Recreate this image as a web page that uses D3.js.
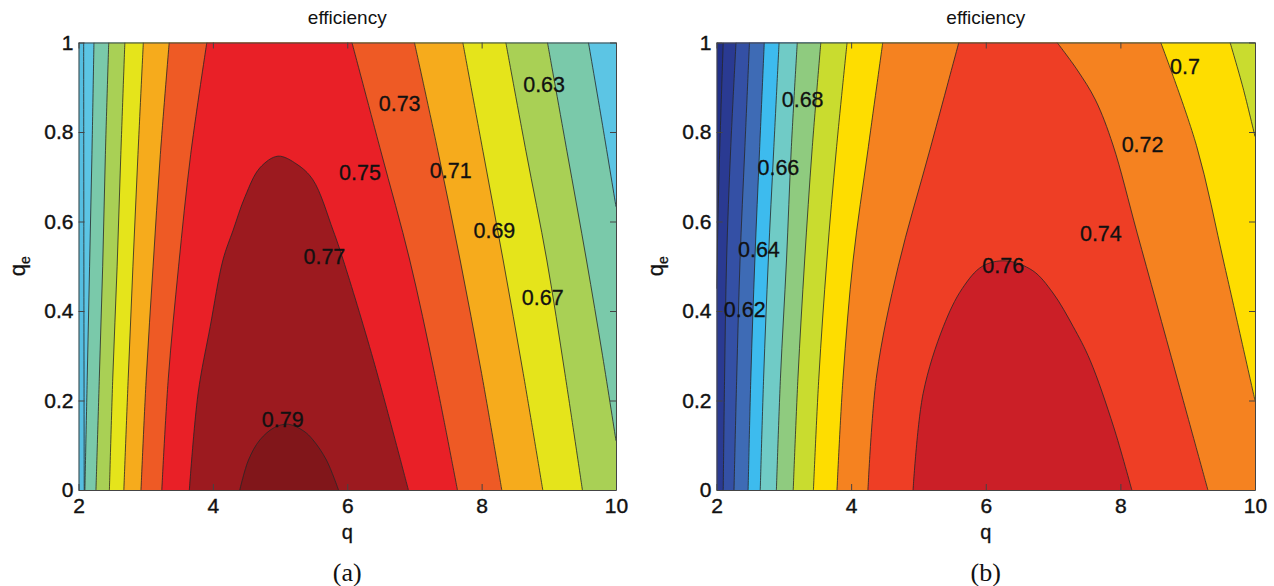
<!DOCTYPE html>
<html>
<head>
<meta charset="utf-8">
<script src="https://cdn.jsdelivr.net/npm/d3@7"></script>
<style>
  html, body { margin: 0; padding: 0; background: #fff; }
  svg { display: block; }
  text { font-family: "Liberation Sans", Arial, Helvetica, sans-serif; fill: #111; }
</style>
</head>
<body>
<svg id="chart" width="1274" height="586"></svg>
<script>
// ---------------- data ----------------
const qTicks = [2, 4, 6, 8, 10];
const qeTicks = [0, 0.2, 0.4, 0.6, 0.8, 1];
const qeTickLabels = ["0", "0.2", "0.4", "0.6", "0.8", "1"];

// Panel (a): contour levels and the lines [q, qe] of each level
const levelsA = [0.63, 0.65, 0.67, 0.69, 0.71, 0.73, 0.75, 0.77, 0.79];
const leftLinesA = [
  [[2.085, 0], [2.08, 0.5], [2.077, 1]],
  [[2.095, 0], [2.13, 0.25], [2.165, 0.5], [2.20, 0.75], [2.23, 1]],
  [[2.26, 0], [2.31, 0.25], [2.36, 0.5], [2.40, 0.75], [2.45, 1]],
  [[2.46, 0], [2.51, 0.25], [2.575, 0.5], [2.63, 0.75], [2.69, 1]],
  [[2.675, 0], [2.74, 0.25], [2.81, 0.5], [2.885, 0.75], [2.965, 1]],
  [[2.93, 0], [3.008, 0.25], [3.11, 0.5], [3.218, 0.75], [3.35, 1]],
  [[3.24, 0], [3.337, 0.25], [3.49, 0.5], [3.67, 0.75], [3.91, 1]],
  [[3.65, 0], [3.78, 0.216], [3.96, 0.365], [4.15, 0.514], [4.30, 0.58], [4.48, 0.656], [4.70, 0.72],
   [4.97, 0.746], [5.25, 0.728], [5.49, 0.693], [5.79, 0.58], [5.94, 0.514], [6.39, 0.29], [6.91, 0]],
  [[4.40, 0], [4.53, 0.067], [4.70, 0.112], [4.92, 0.140], [5.12, 0.147], [5.35, 0.132], [5.49, 0.112],
   [5.69, 0.067], [5.87, 0]]
];
const rightLinesA = [
  null,
  [[9.59, 1], [9.80, 0.815], [10, 0.633]],
  [[8.98, 1], [9.27, 0.757], [9.56, 0.514], [9.80, 0.3], [10, 0.11]],
  [[8.36, 1], [8.66, 0.757], [8.97, 0.514], [9.24, 0.26], [9.50, 0]],
  [[7.72, 1], [8.02, 0.757], [8.32, 0.514], [8.62, 0.26], [8.91, 0]],
  [[7.00, 1], [7.35, 0.757], [7.68, 0.514], [8.00, 0.26], [8.30, 0]],
  [[6.07, 1], [6.50, 0.757], [6.93, 0.514], [7.30, 0.26], [7.64, 0]],
  null,
  null
];
const labelTextA = ["0.63", "0.73", "0.75", "0.71", "0.69", "0.77", "0.67", "0.79"];
const labelQA    = [8.93, 6.78, 6.19, 7.54, 8.19, 5.66, 8.91, 5.04];
const labelQeA   = [0.906, 0.862, 0.708, 0.713, 0.578, 0.520, 0.428, 0.156];

// Panel (b)
const levelsB = [0.56, 0.58, 0.60, 0.62, 0.64, 0.66, 0.68, 0.70, 0.72, 0.74, 0.76];
const leftLinesB = [
  [[2.0, 0.45], [2.04, 0.72], [2.10, 1]],
  [[2.10, 0], [2.12, 0.25], [2.15, 0.514], [2.21, 0.76], [2.29, 1]],
  [[2.26, 0], [2.30, 0.25], [2.35, 0.514], [2.42, 0.76], [2.49, 1]],
  [[2.47, 0], [2.51, 0.25], [2.57, 0.514], [2.64, 0.76], [2.71, 1]],
  [[2.65, 0], [2.70, 0.25], [2.77, 0.514], [2.85, 0.76], [2.93, 1]],
  [[2.89, 0], [2.95, 0.25], [3.04, 0.514], [3.11, 0.76], [3.20, 1]],
  [[3.14, 0], [3.21, 0.25], [3.31, 0.514], [3.42, 0.76], [3.55, 1]],
  [[3.44, 0], [3.52, 0.25], [3.64, 0.514], [3.78, 0.76], [3.94, 1]],
  [[3.79, 0], [3.88, 0.25], [4.03, 0.514], [4.25, 0.76], [4.47, 1]],
  [[4.25, 0], [4.38, 0.257], [4.70, 0.5], [5.17, 0.76], [5.60, 1]],
  [[4.92, 0], [5.07, 0.216], [5.37, 0.365], [5.65, 0.45], [5.95, 0.5], [6.3, 0.512], [6.7, 0.49],
   [7.0, 0.44], [7.30, 0.365], [7.55, 0.29], [7.9, 0.141], [8.17, 0]]
];
const rightLinesB = [
  null, null, null, null, null, null, null,
  [[9.63, 1], [9.82, 0.9], [10, 0.79]],
  [[8.60, 1], [9.13, 0.77], [9.55, 0.5], [10, 0.2]],
  [[7.06, 1], [7.36, 0.9385], [7.63, 0.8715], [7.89, 0.771], [8.25, 0.574], [8.83, 0.257], [9.30, 0]],
  null
];
const labelTextB = ["0.62", "0.64", "0.66", "0.68", "0.7", "0.72", "0.74", "0.76"];
const labelQB    = [2.42, 2.63, 2.92, 3.28, 8.96, 8.33, 7.71, 6.26];
const labelQeB   = [0.403, 0.537, 0.719, 0.872, 0.946, 0.771, 0.573, 0.500];

// ---------------- styles ----------------
const bandColorsA = ["#55bee1", "#5cc5e4", "#7ac9aa", "#a9d055", "#e5e41b", "#f6ab1c",
                     "#ee5a25", "#e92027", "#9c1a1f", "#81161a"];
const bandColorsB = ["#212f88", "#2a3a92", "#3450a5", "#3e6bb5", "#3dbbee", "#70cbc6",
                     "#8fcb7f", "#c9dc2f", "#fedd00", "#f58220", "#ee3e25", "#cb1f27"];

const svg = d3.select("#chart");
svg.append("rect").attr("width", 1274).attr("height", 586).attr("fill", "#fff");

function drawPanel(id, left, top, width, height, levels, leftLines, rightLines, colors,
                   labText, labQ, labQe, caption) {
  const x = d3.scaleLinear().domain([2, 10]).range([left, left + width]);
  const y = d3.scaleLinear().domain([0, 1]).range([top + height, top]);
  const [q0, q1] = x.domain();
  const [e0, e1] = y.domain();
  const line = d3.line().x(d => x(d[0])).y(d => y(d[1])).curve(d3.curveCatmullRom.alpha(0.5));

  function regionPath(L, R) {
    let p;
    if (L[0][1] > e0) p = `M${x(q0)},${y(e0)}` + line(L).replace(/^M/, "L");
    else p = line(L);
    const last = L[L.length - 1];
    if (last[1] === e0) return p + "Z";
    if (R) {
      p += line(R).replace(/^M/, "L");
      const r = R[R.length - 1];
      if (r[1] > e0) p += `L${x(q1)},${y(e0)}`;
    } else {
      p += `L${x(q1)},${y(e1)}L${x(q1)},${y(e0)}`;
    }
    return p + "Z";
  }

  const g = svg.append("g");
  const clipId = "clip-" + id;
  g.append("clipPath").attr("id", clipId)
    .append("rect").attr("x", left).attr("y", top).attr("width", width).attr("height", height);
  const plot = g.append("g").attr("clip-path", `url(#${clipId})`);

  plot.append("rect").attr("x", left).attr("y", top).attr("width", width).attr("height", height)
    .attr("fill", colors[0]);

  levels.forEach((lv, i) => {
    plot.append("path").attr("d", regionPath(leftLines[i], rightLines[i]))
      .attr("fill", colors[i + 1]).attr("stroke", "none");
  });
  levels.forEach((lv, i) => {
    [leftLines[i], rightLines[i]].forEach(pts => {
      if (!pts) return;
      plot.append("path").attr("d", line(pts)).attr("fill", "none")
        .attr("stroke", "#262626").attr("stroke-width", 0.95).attr("stroke-opacity", 0.85);
    });
  });

  labText.forEach((t, i) => {
    g.append("text").attr("x", x(labQ[i])).attr("y", y(labQe[i]))
      .attr("text-anchor", "middle").attr("dominant-baseline", "central")
      .attr("font-size", 21.5).attr("stroke", "#111").attr("stroke-width", 0.3).text(t);
  });

  // axes (ticks inward on all sides)
  const axStyle = sel => {
    sel.select(".domain").attr("stroke", "#444").attr("stroke-width", 1);
    sel.selectAll(".tick line").attr("stroke", "#444");
    sel.selectAll("text").attr("font-size", 21).attr("fill", "#111")
      .attr("stroke", "#111").attr("stroke-width", 0.4)
      .attr("font-family", '"Liberation Sans", Arial, sans-serif');
  };
  g.append("g").attr("transform", `translate(0,${top + height})`)
    .call(d3.axisBottom(x).tickValues(qTicks).tickSizeInner(-6).tickSizeOuter(0).tickPadding(8)
      .tickFormat(d3.format("d"))).call(axStyle);
  g.append("g").attr("transform", `translate(0,${top})`)
    .call(d3.axisTop(x).tickValues(qTicks).tickSizeInner(-6).tickSizeOuter(0).tickFormat(""))
    .call(axStyle);
  g.append("g").attr("transform", `translate(${left},0)`)
    .call(d3.axisLeft(y).tickValues(qeTicks).tickSizeInner(-6).tickSizeOuter(0).tickPadding(5)
      .tickFormat((d, i) => qeTickLabels[i])).call(axStyle);
  g.append("g").attr("transform", `translate(${left + width},0)`)
    .call(d3.axisRight(y).tickValues(qeTicks).tickSizeInner(-6).tickSizeOuter(0).tickFormat(""))
    .call(axStyle);

  const cx = left + width / 2;
  g.append("text").attr("x", cx).attr("y", 24).attr("text-anchor", "middle")
    .attr("font-size", 19).attr("fill", "#222").text("efficiency");
  g.append("text").attr("x", cx).attr("y", 539).attr("text-anchor", "middle")
    .attr("font-size", 20).attr("stroke", "#111").attr("stroke-width", 0.3).text("q");
  const yl = g.append("text")
    .attr("transform", `translate(${left - 54},${top + height / 2}) rotate(-90)`)
    .attr("text-anchor", "middle").attr("font-size", 22)
    .attr("stroke", "#111").attr("stroke-width", 0.3);
  yl.append("tspan").text("q");
  yl.append("tspan").attr("font-size", 14).attr("dy", 5).text("e");
  g.append("text").attr("x", cx).attr("y", 581).attr("text-anchor", "middle")
    .attr("font-size", 26).style("font-family", '"Liberation Serif", "Times New Roman", serif')
    .text(caption);
}

drawPanel("a", 78.5, 42.5, 537.5, 447.5, levelsA, leftLinesA, rightLinesA, bandColorsA,
          labelTextA, labelQA, labelQeA, "(a)");
drawPanel("b", 716.5, 42.5, 538.5, 447.5, levelsB, leftLinesB, rightLinesB, bandColorsB,
          labelTextB, labelQB, labelQeB, "(b)");
</script>
</body>
</html>
